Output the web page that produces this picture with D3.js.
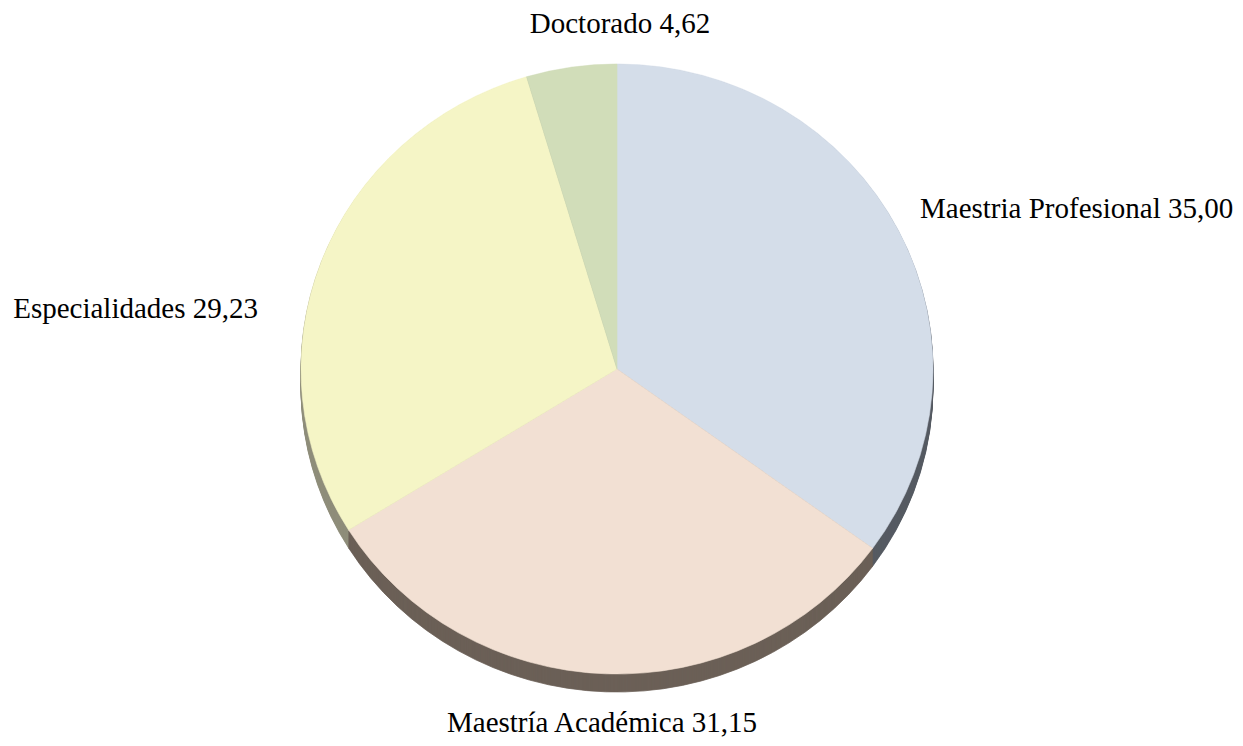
<!DOCTYPE html>
<html>
<head>
<meta charset="utf-8">
<script src="https://cdn.jsdelivr.net/npm/d3@7/dist/d3.min.js"></script>
<style>
  html, body { margin: 0; padding: 0; background: #ffffff; }
  svg { display: block; }
  text { font-family: "Liberation Serif", "Times New Roman", serif; fill: #000; }
</style>
</head>
<body>
<svg id="chart" width="1243" height="746"></svg>
<script>
// ---- data ----
const categories = ["Maestria Profesional", "Maestría Académica", "Especialidades", "Doctorado"];
const values = [35.00, 31.15, 29.23, 4.62];
const valueLabels = ["35,00", "31,15", "29,23", "4,62"];
const faceColors = ["#d4dde9", "#f2e0d3", "#f5f5c6", "#d1ddb9"];
const sideColors = ["#555a62", "#6b6057", "#8f8d7b", "#6d7460"];

// ---- layout ----
const W = 1243, H = 746;
const cx = 617, cy = 369;
const rx = 316, ry = 305;
const depth = 18;
// label placement: [x, y(baseline), anchor]
const labelPos = [
  [920, 218, "start"],
  [602, 732, "middle"],
  [258, 318, "end"],
  [620, 33, "middle"]
];

const svg = d3.select("#chart");
const data = categories.map((c, i) => ({ name: c, value: values[i], label: valueLabels[i], i }));

const pie = d3.pie().sort(null).value(d => d.value);
const arcs = pie(data);
const arc = d3.arc().innerRadius(0).outerRadius(rx);
const sy = ry / rx;

// side (extrusion)
for (let dy = depth; dy >= 1; dy--) {
  svg.append("g")
    .attr("transform", `translate(${cx},${cy + dy}) scale(1,${sy})`)
    .selectAll("path")
    .data(arcs)
    .join("path")
    .attr("d", arc)
    .attr("fill", d => sideColors[d.data.i])
    .attr("stroke", d => sideColors[d.data.i])
    .attr("stroke-width", 0.8);
}

// top face
svg.append("g")
  .attr("transform", `translate(${cx},${cy}) scale(1,${sy})`)
  .selectAll("path")
  .data(arcs)
  .join("path")
  .attr("d", arc)
  .attr("fill", d => faceColors[d.data.i])
  .attr("stroke", d => faceColors[d.data.i])
  .attr("stroke-width", 0.6);

// labels
svg.append("g")
  .selectAll("text")
  .data(arcs)
  .join("text")
  .attr("x", d => labelPos[d.data.i][0])
  .attr("y", d => labelPos[d.data.i][1])
  .attr("text-anchor", d => labelPos[d.data.i][2])
  .attr("font-size", 29)
  .text(d => d.data.name + " " + d.data.label);
</script>
</body>
</html>
